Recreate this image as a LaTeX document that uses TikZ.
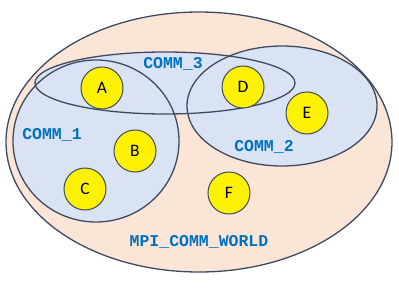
\documentclass[tikz,border=0pt]{standalone}
\usepackage{fontspec}
\setmainfont{Carlito}
\newfontfamily\commfont{Liberation Mono}
\definecolor{worldfill}{HTML}{FBE5D6}
\definecolor{commfill}{HTML}{DAE3F3}
\definecolor{edge}{HTML}{3E4A62}
\definecolor{commblue}{HTML}{0070C0}
\begin{document}
\begin{tikzpicture}[
        x=1pt,y=-1pt,
        every node/.style={inner sep=0pt},
        commline/.style={draw=edge,line width=1.3pt},
        rank/.style={
            circle,draw=edge,line width=1pt,fill=yellow,
            minimum size=42pt,font=\fontsize{17.5}{18}\selectfont
        },
        commname/.style={
            text=commblue,font=\commfont\bfseries\fontsize{16.5}{17}\selectfont
        }
    ]
    \useasboundingbox (0,0) rectangle (399,289);
% Sets
    \filldraw[fill=worldfill,commline] (199,142) ellipse [x radius=193,y radius=130];
    \fill[commfill] (96,141) ellipse [x radius=83,y radius=81];
    \fill[commfill] (282,106) ellipse [x radius=95,y radius=60];
    \fill[commfill] (165,83) ellipse [x radius=130,y radius=31];
    \draw[commline] (96,141) ellipse [x radius=83,y radius=81];
    \draw[commline] (282,106) ellipse [x radius=95,y radius=60];
    \draw[commline] (165,83) ellipse [x radius=130,y radius=31];
% Ranks
\foreach\n/\x/\y in {A/102/88,B/135/151,C/85/189,D/243/87,E/307/113,F/229/193}{
    \node[rank] (\n) at (\x,\y) {\n};
}
% Labels
    \node[commname] (comm1) at (52,135) {COMM\_1};
    \node[commname] (comm2) at (264,147) {COMM\_2};
    \node[commname] (comm3) at (173,64) {COMM\_3};
    \node[commname] (world) at (199,242) {MPI\_COMM\_WORLD};
\end{tikzpicture}
\end{document}
